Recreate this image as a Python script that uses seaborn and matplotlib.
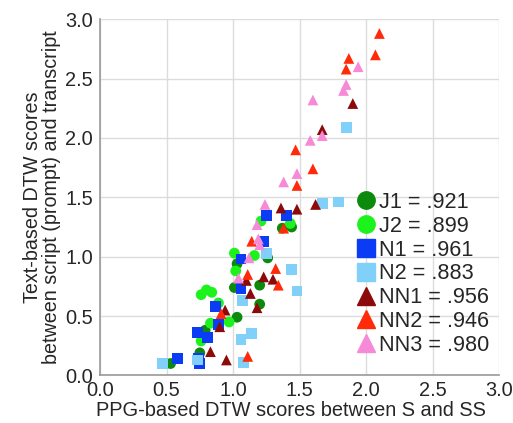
import pandas as pd
import seaborn as sns
import matplotlib.pyplot as plt
from matplotlib.lines import Line2D

# speakers and their correlation labels
speakers = ["J1", "J2", "N1", "N2", "NN1", "NN2", "NN3"]
corr_labels = [".921", ".899", ".961", ".883", ".956", ".946", ".980"]

j1_x = [0.53, 0.75, 0.79, 1.03, 1.20, 1.20, 1.01, 1.26, 1.03, 1.37, 1.44]
j1_y = [0.10, 0.19, 0.38, 0.49, 0.60, 0.76, 0.74, 0.99, 0.94, 1.24, 1.25]

j2_x = [0.76, 0.80, 0.84, 0.89, 0.83, 0.76, 0.97, 1.01, 1.02, 1.16, 1.21, 1.43]
j2_y = [0.68, 0.72, 0.70, 0.61, 0.44, 0.29, 0.45, 1.03, 0.88, 1.01, 1.30, 1.28]

n1_x = [0.58, 0.73, 0.81, 0.74, 0.75, 0.87, 0.89, 1.06, 1.06, 1.23, 1.25, 1.40]
n1_y = [0.14, 0.36, 0.32, 0.14, 0.10, 0.58, 0.43, 0.98, 0.73, 1.13, 1.35, 1.35]

n2_x = [0.47, 0.73, 1.06, 1.14, 1.08, 1.07, 1.25, 1.44, 1.48, 1.85, 1.67, 1.79]
n2_y = [0.10, 0.13, 0.30, 0.35, 0.11, 0.63, 1.03, 0.89, 0.71, 2.09, 1.45, 1.46]

nn1_x = [0.83, 0.95, 0.90, 0.94, 1.18, 1.13, 1.23, 1.30, 1.10, 1.36, 1.48, 1.62, 1.67, 1.90]
nn1_y = [0.20, 0.13, 0.41, 0.55, 0.57, 0.69, 0.83, 0.81, 0.80, 1.41, 1.40, 1.44, 2.07, 2.29]

nn2_x = [0.91, 1.11, 1.11, 1.14, 1.32, 1.34, 1.38, 1.48, 1.47, 1.60, 1.85, 1.87, 2.07, 2.10]
nn2_y = [0.52, 0.16, 0.85, 1.13, 0.90, 0.76, 1.24, 1.60, 1.90, 1.74, 2.58, 2.67, 2.70, 2.88]

nn3_x = [1.04, 1.12, 1.20, 1.19, 1.18, 1.24, 1.38, 1.48, 1.58, 1.67, 1.60, 1.83, 1.85, 1.94]
nn3_y = [0.82, 0.99, 1.10, 1.15, 1.27, 1.44, 1.63, 1.70, 1.98, 2.02, 2.32, 2.40, 2.45, 2.60]

xs = [j1_x, j2_x, n1_x, n2_x, nn1_x, nn2_x, nn3_x]
ys = [j1_y, j2_y, n1_y, n2_y, nn1_y, nn2_y, nn3_y]

colors = ["#0b8a0b", "#1cf21c", "#0a3cf5", "#80d0fa", "#8c0a0a", "#ff2a0a", "#f78ad6"]
markers = ["o", "o", "s", "s", "^", "^", "^"]

rows = []
for sp, x, y in zip(speakers, xs, ys):
    for a, b in zip(x, y):
        rows.append([sp, a, b])
df = pd.DataFrame(rows, columns=["speaker", "ppg", "text"])

sns.set_style("white")
plt.rcParams["font.family"] = ["Liberation Sans", "DejaVu Sans"]

fig = plt.figure(figsize=(5.13, 4.23), dpi=100)
ax = fig.add_axes([0.195, 0.1125, 0.778, 0.842])

sns.scatterplot(data=df, x="ppg", y="text", hue="speaker", style="speaker",
                palette=dict(zip(speakers, colors)), markers=dict(zip(speakers, markers)),
                s=60, linewidth=0, legend=False, ax=ax, clip_on=False, zorder=3)

ticks = [0, 0.5, 1, 1.5, 2, 2.5, 3]
tick_labels = ["0.0", "0.5", "1.0", "1.5", "2.0", "2.5", "3.0"]
ax.set_xlim(0, 3)
ax.set_ylim(0, 3)
ax.set_xticks(ticks)
ax.set_yticks(ticks)
ax.set_xticklabels(tick_labels)
ax.set_yticklabels(tick_labels)
ax.grid(True, color="#dcdcdc", linewidth=1)
ax.set_axisbelow(True)
for side in ["top", "right"]:
    ax.spines[side].set_visible(False)
for side in ["left", "bottom"]:
    ax.spines[side].set_color("#999999")
    ax.spines[side].set_linewidth(1.2)
ax.tick_params(axis="x", direction="in", length=3, color="#999999", labelsize=14.4, pad=4)
ax.tick_params(axis="y", direction="out", length=3, color="#999999", labelsize=14.4, pad=2)

ax.set_xlabel("PPG-based DTW scores between S and SS", fontsize=14.4, labelpad=0.5)
ax.xaxis.label.set_x(0.478)
ax.set_ylabel("Text-based DTW scores\nbetween script (prompt) and transcript", fontsize=14.2,
              labelpad=3, linespacing=1.0)

handles = [Line2D([], [], linestyle="none", marker=m, color=c, markersize=12.5)
           for m, c in zip(markers, colors)]
labels = [f"{sp} = {c}" for sp, c in zip(speakers, corr_labels)]
ax.legend(handles, labels, loc="upper left", bbox_to_anchor=(0.645, 0.515),
          frameon=False, fontsize=15.6, handlelength=0.8, handletextpad=0.2,
          labelspacing=0.13, borderpad=0, borderaxespad=0)

fig.savefig("out.png", dpi=100)
